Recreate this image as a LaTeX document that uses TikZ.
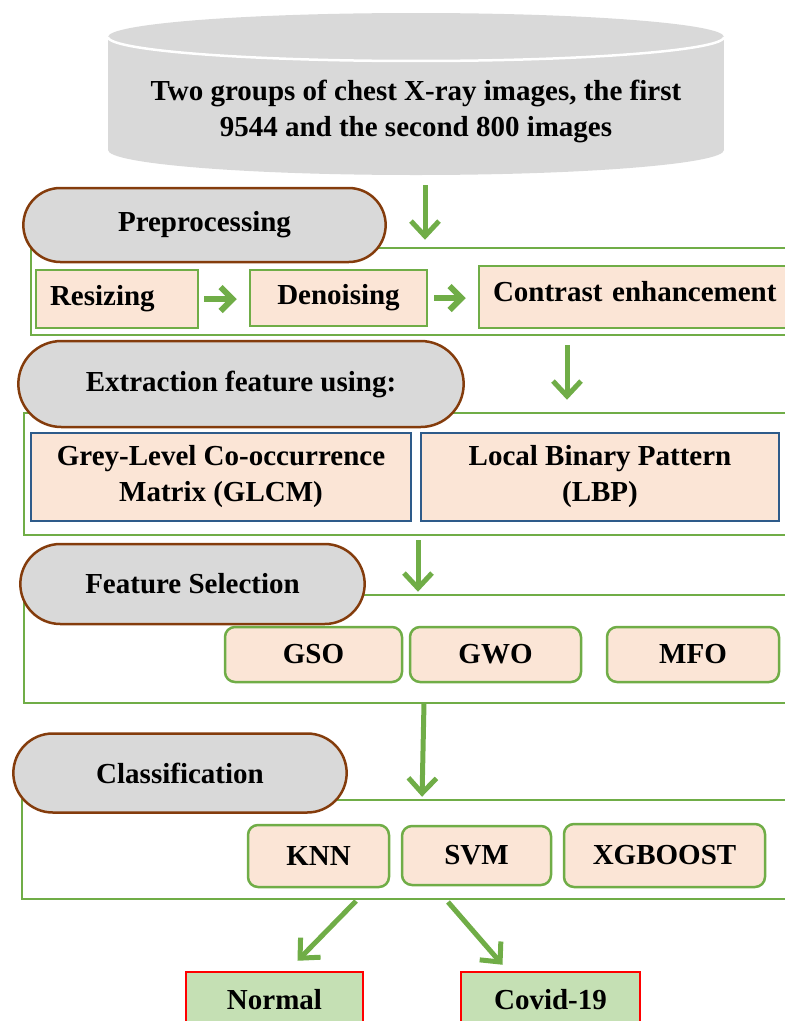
\documentclass[tikz,border=0pt]{standalone}
\usepackage{fontspec}
\setmainfont{Liberation Serif}
\usetikzlibrary{arrows.meta,positioning,calc,shapes.misc}
\definecolor{drum}{HTML}{D9D9D9}
\definecolor{rim}{HTML}{843C0C}
\definecolor{leaf}{HTML}{70AD47}
\definecolor{peach}{HTML}{FBE5D6}
\definecolor{navy}{HTML}{2E5B8A}
\definecolor{mint}{HTML}{C5E0B4}

\begin{document}
\begin{tikzpicture}[x=1pt,y=-1pt,
  every node/.style={font=\fontsize{29}{36}\selectfont\bfseries},
  stage/.style={rounded rectangle,draw=rim,line width=2.5pt,fill=drum},
  frame/.style={rectangle,draw=leaf,line width=2.5pt},
  stepbox/.style={rectangle,draw=leaf,line width=2.5pt,fill=peach},
  featbox/.style={rectangle,draw=navy,line width=2.5pt,fill=peach,align=center},
  algbox/.style={rectangle,rounded corners=10pt,draw=leaf,line width=2.5pt,fill=peach},
  outbox/.style={rectangle,draw=red,line width=2.5pt,fill=mint},
  flow/.style={draw=leaf,line width=5pt,-{Straight Barb[length=15pt,width=28pt]}},
  nudge/.style={draw=leaf,line width=6pt,-{Straight Barb[length=12pt,width=24pt]}}]
\useasboundingbox (0,0) rectangle (785,1021);
\clip (0,0) rectangle (785,1021);
% dataset drum
\fill[drum] (108,37) rectangle (724,150);
\fill[drum] (416,150) ellipse [x radius=308pt,y radius=25pt];
\fill[drum] (416,37) ellipse [x radius=308pt,y radius=24pt];
\draw[white,line width=2.5pt] plot[domain=0:180,samples=80] ({416+308*cos(\x)},{37+24*sin(\x)});
\node[align=center] (data) at (416,111) {Two groups of chest X-ray images, the first\\9544 and the second 800 images};
% green frames
\node[frame,minimum width=789pt,minimum height=87pt] (f1) at (425.5,291.5) {};
\node[frame,minimum width=796pt,minimum height=122pt] (f2) at (422,474) {};
\node[frame,minimum width=796pt,minimum height=108pt] (f3) at (422,649) {};
\node[frame,minimum width=798pt,minimum height=99pt] (f4) at (421,849.5) {};
% stage labels
\node[stage,minimum width=369pt,minimum height=74pt] (prep) at (204.5,225) {Preprocessing};
\node[stage,minimum width=452pt,minimum height=86pt] (extract) at (241,384) {Extraction feature using:};
\node[stage,minimum width=351pt,minimum height=80pt] (select) at (192.5,584) {Feature Selection};
\node[stage,minimum width=340pt,minimum height=79pt] (classify) at (180,773) {Classification};
% preprocessing steps
\node[stepbox,minimum width=162pt,minimum height=58pt,text width=134pt,align=left] (resize) at (117,299) {Resizing};
\node[stepbox,minimum width=177pt,minimum height=56pt] (denoise) at (338.5,298) {Denoising};
\node[stepbox,minimum width=331pt,minimum height=62pt,text width=303pt,align=left,text depth=12pt] (contrast) at (644.5,297) {Contrast enhancement};
% feature extractors
\node[featbox,minimum width=380pt,minimum height=88pt] (glcm) at (221,477) {Grey-Level Co-occurrence\\Matrix (GLCM)};
\node[featbox,minimum width=358pt,minimum height=88pt] (lbp) at (600,477) {Local Binary Pattern\\(LBP)};
% optimisers
\node[algbox,minimum width=177pt,minimum height=55pt] (gso) at (313.5,654.5) {GSO};
\node[algbox,minimum width=171pt,minimum height=55pt] (gwo) at (495.5,654.5) {GWO};
\node[algbox,minimum width=172pt,minimum height=55pt] (mfo) at (693,654.5) {MFO};
% classifiers
\node[algbox,minimum width=141pt,minimum height=62pt] (knn) at (318.5,856) {KNN};
\node[algbox,minimum width=149pt,minimum height=59pt] (svm) at (476.5,855.5) {SVM};
\node[algbox,minimum width=201pt,minimum height=63pt] (xgb) at (664.5,855.5) {XGBOOST};
% outcomes
\node[outbox,minimum width=177pt,minimum height=56pt] (normal) at (274.5,1000) {Normal};
\node[outbox,minimum width=179pt,minimum height=56pt] (covid) at (550.5,1000) {Covid-19};
% flow arrows
\coordinate (drop1) at (425,185);
\coordinate (drop2) at (567,345);
\coordinate (drop3) at (418,540);
\coordinate (drop4) at (424,703);
\coordinate (split1) at (356,901);
\coordinate (split2) at (448,902);
\draw[flow,shorten >=7pt] (drop1) -- (drop1 |- f1.north);
\draw[flow,shorten >=12pt] (drop2) -- (drop2 |- f2.north);
\draw[flow,shorten >=2pt] (drop3) -- (drop3 |- f3.north);
\draw[flow,shorten >=2pt] (drop4) -- ($(drop4 |- f4.north)+(-2,0)$);
\draw[flow] (split1) -- ($(normal.north)+(23,-10)$);
\draw[flow] (split2) -- ($(covid.north)+(-48,-6)$);
\draw[nudge,shorten <=5pt,shorten >=12pt] (resize.east) -- (resize.east -| denoise.west);
\draw[nudge,shorten <=6pt,shorten >=12pt] (denoise.east) -- (denoise.east -| contrast.west);
\end{tikzpicture}
\end{document}
